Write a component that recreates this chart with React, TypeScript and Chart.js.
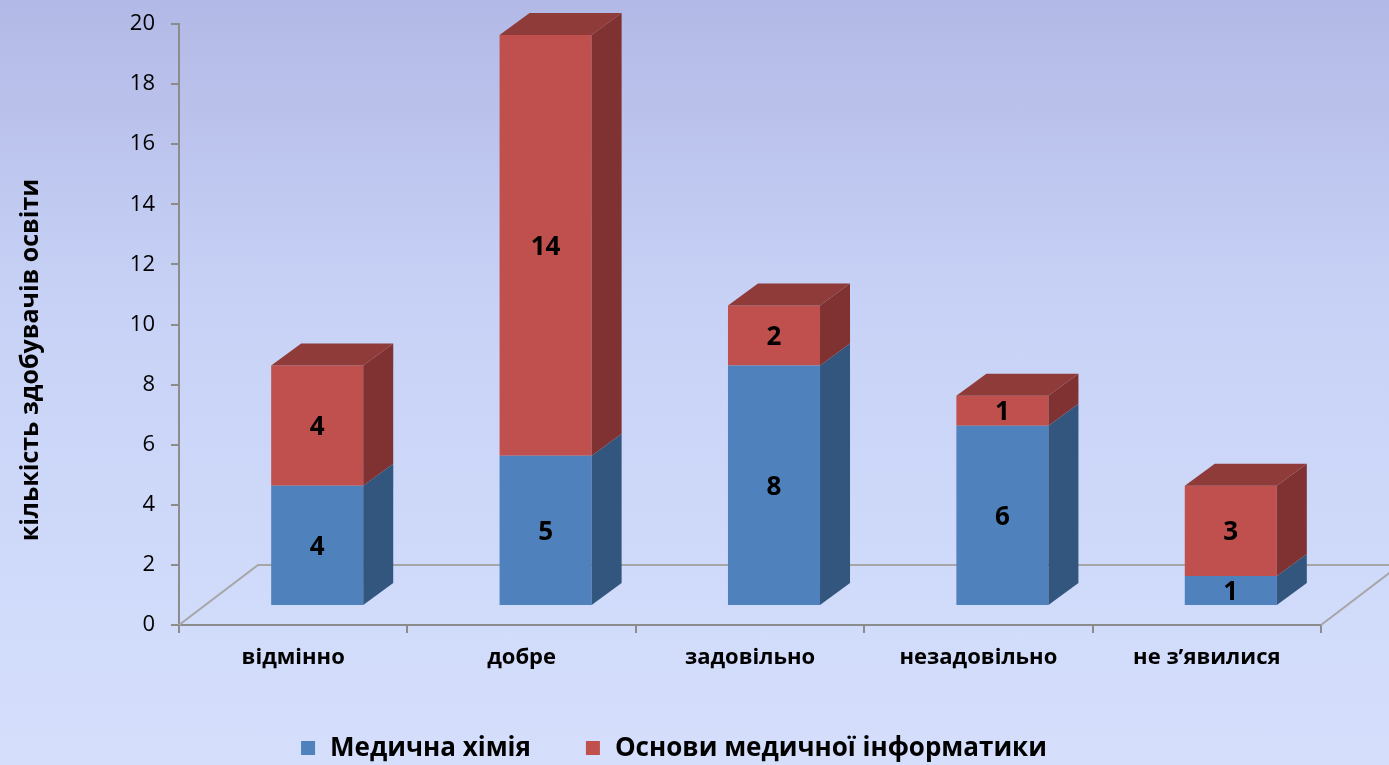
import React, { useEffect, useRef } from "react";
import { Chart, registerables } from "chart.js";

Chart.register(...registerables);

// ---- data ----
const categories = ["відмінно", "добре", "задовільно", "незадовільно", "не з’явилися"];
const medicalChemistry = [4, 5, 8, 6, 1];
const medicalInformatics = [4, 14, 2, 1, 3];
const seriesNames = ["Медична хімія", "Основи медичної інформатики"];
const yAxisTitle = "кількість здобувачів освіти";
const yMin = 0;
const yMax = 20;
const yStep = 2;
const floorDepthUnits = 2;

// ---- styles ----
const FONT = "'Open Sans', 'Noto Sans', sans-serif";
const frontColors = ["#4f81bd", "#c0504d"];
const sideColors = ["#33567f", "#7f3231"];
const topColors = ["#3c6597", "#8e3b3a"];
const AXIS_COLOR = "#8c8c8c";
const FLOOR_COLOR = "#a6a6a6";
const BAR_DX = 24; // bar plane offset from front axis
const BAR_DY = 19;
const DEPTH_X = 30; // bar depth
const DEPTH_Y = 22;
const FLOOR_DX = 79;

const threeDPlugin = {
  id: "threeD",
  beforeDatasetsDraw(chart: any) {
    const { ctx, chartArea, scales } = chart;
    const y = scales.y;
    const y0 = y.getPixelForValue(0);
    const fdy = y0 - y.getPixelForValue(floorDepthUnits);
    ctx.save();
    ctx.strokeStyle = FLOOR_COLOR;
    ctx.lineWidth = 2;
    ctx.beginPath();
    ctx.moveTo(chartArea.left, y0);
    ctx.lineTo(chartArea.left + FLOOR_DX, y0 - fdy);
    ctx.lineTo(chartArea.right + FLOOR_DX, y0 - fdy);
    ctx.lineTo(chartArea.right, y0);
    ctx.stroke();
    ctx.restore();
    ctx.save();
    ctx.translate(BAR_DX, -BAR_DY);
  },
  afterDatasetsDraw(chart: any) {
    const ctx = chart.ctx;
    ctx.restore();
    const nds = chart.data.datasets.length;
    chart.data.datasets.forEach((ds: any, di: number) => {
      const meta = chart.getDatasetMeta(di);
      meta.data.forEach((bar: any) => {
        const { x, y, base, width } = bar.getProps(["x", "y", "base", "width"], true);
        const left = x - width / 2 + BAR_DX;
        const right = x + width / 2 + BAR_DX;
        const top = y - BAR_DY;
        const bottom = base - BAR_DY;
        ctx.fillStyle = sideColors[di];
        ctx.beginPath();
        ctx.moveTo(right, top);
        ctx.lineTo(right + DEPTH_X, top - DEPTH_Y);
        ctx.lineTo(right + DEPTH_X, bottom - DEPTH_Y);
        ctx.lineTo(right, bottom);
        ctx.closePath();
        ctx.fill();
        if (di === nds - 1) {
          ctx.fillStyle = topColors[di];
          ctx.beginPath();
          ctx.moveTo(left, top);
          ctx.lineTo(left + DEPTH_X, top - DEPTH_Y);
          ctx.lineTo(right + DEPTH_X, top - DEPTH_Y);
          ctx.lineTo(right, top);
          ctx.closePath();
          ctx.fill();
        }
      });
    });
    // value labels
    ctx.save();
    ctx.fillStyle = "#000";
    ctx.font = `bold 26px ${FONT}`;
    ctx.textAlign = "center";
    ctx.textBaseline = "middle";
    chart.data.datasets.forEach((ds: any, di: number) => {
      const meta = chart.getDatasetMeta(di);
      meta.data.forEach((bar: any, i: number) => {
        const { x, y, base } = bar.getProps(["x", "y", "base"], true);
        ctx.fillText(String(ds.data[i]), x + BAR_DX, (y + base) / 2 - BAR_DY + 2);
      });
    });
    ctx.restore();
  },
  afterDraw(chart: any) {
    const { ctx } = chart;
    // axis title
    ctx.save();
    ctx.translate(31, 360);
    ctx.rotate(-Math.PI / 2);
    ctx.fillStyle = "#000";
    ctx.font = `bold 25px ${FONT}`;
    ctx.textAlign = "center";
    ctx.textBaseline = "middle";
    ctx.fillText(yAxisTitle, 0, 0);
    ctx.restore();
    // legend
    ctx.save();
    ctx.font = `bold 26px ${FONT}`;
    ctx.textBaseline = "middle";
    ctx.textAlign = "left";
    const box = 14;
    const gapBox = 15;
    const gapItem = 55;
    const labels = chart.data.datasets.map((d: any) => d.label);
    const widths = labels.map((l: string) => box + gapBox + ctx.measureText(l).width);
    const total = widths.reduce((a: number, b: number) => a + b, 0) + gapItem * (labels.length - 1);
    let lx = 674 - total / 2;
    const ly = 748;
    labels.forEach((l: string, i: number) => {
      ctx.fillStyle = frontColors[i];
      ctx.fillRect(lx, ly - box / 2, box, box);
      ctx.fillStyle = "#000";
      ctx.fillText(l, lx + box + gapBox, ly + 1);
      lx += widths[i] + gapItem;
    });
    ctx.restore();
  },
};

export default function App() {
  const ref = useRef<HTMLCanvasElement | null>(null);
  useEffect(() => {
    if (!ref.current) return;
    const chart = new Chart(ref.current, {
      type: "bar",
      data: {
        labels: categories,
        datasets: [
          { label: seriesNames[0], data: medicalChemistry, backgroundColor: frontColors[0], borderWidth: 0 },
          { label: seriesNames[1], data: medicalInformatics, backgroundColor: frontColors[1], borderWidth: 0 },
        ],
      },
      options: {
        animation: false,
        responsive: true,
        maintainAspectRatio: false,
        layout: { padding: { top: 24, right: 68, left: 0, bottom: 0 } },
        datasets: { bar: { barPercentage: 0.403, categoryPercentage: 1.0, clip: false as any } },
        plugins: { legend: { display: false }, tooltip: { enabled: false } },
        scales: {
          x: {
            stacked: true,
            offset: true,
            afterFit: (s: any) => { s.height = 140; },
            grid: { offset: true, drawOnChartArea: false, drawTicks: true, tickLength: 8, color: AXIS_COLOR, lineWidth: 2 },
            border: { display: true, color: AXIS_COLOR, width: 2 },
            ticks: { color: "#000", font: { family: FONT, size: 22, weight: "bold" }, padding: 12, maxRotation: 0 },
          },
          y: {
            stacked: true,
            min: yMin,
            max: yMax,
            afterFit: (s: any) => { s.width = 179; },
            grid: { drawOnChartArea: false, drawTicks: true, tickLength: 8, color: AXIS_COLOR, lineWidth: 2 },
            border: { display: true, color: AXIS_COLOR, width: 2 },
            ticks: { stepSize: yStep, color: "#000", font: { family: FONT, size: 22, lineHeight: 0.7 }, padding: 16 },
          },
        },
      },
      plugins: [threeDPlugin],
    });
    return () => chart.destroy();
  }, []);
  return (
    <div
      style={{
        position: "fixed",
        left: 0,
        top: 0,
        width: 1389,
        height: 765,
        background: "linear-gradient(to bottom, #b2b9e6 0%, #c8d2f6 40%, #d5dffc 100%)",
      }}
    >
      <canvas ref={ref} />
    </div>
  );
}
